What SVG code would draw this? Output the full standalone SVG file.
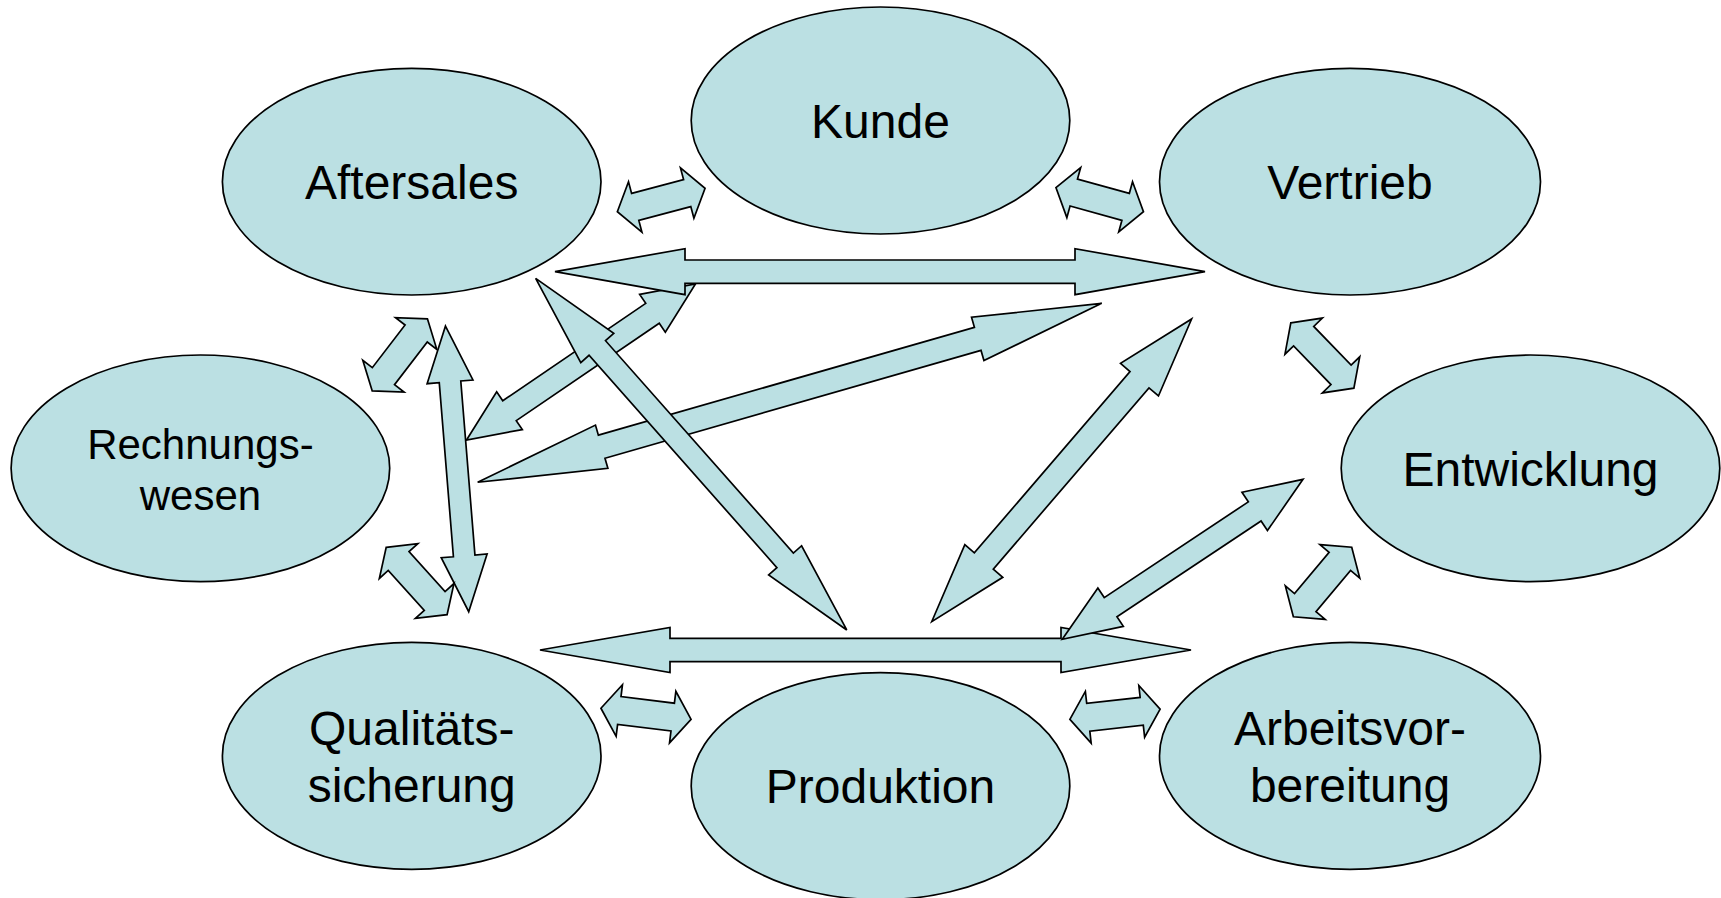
<svg xmlns="http://www.w3.org/2000/svg" xmlns:xlink="http://www.w3.org/1999/xlink" width="1721" height="898" viewBox="0 0 1721 898">
<style>
.node{fill:#BBE0E3;stroke:#000;stroke-width:1.7}
.arr{fill:#BBE0E3;stroke:#000;stroke-width:1.7;stroke-linejoin:miter}
.t{font-family:"Liberation Sans",Arial,sans-serif;font-size:48px;fill:#000;text-anchor:middle}
.ts{font-size:42px}
</style>
<defs>
<polygon id="small" points="-45.4,0 -26.9,-26 -26.9,-14 26.9,-14 26.9,-26 45.4,0 26.9,26 26.9,14 -26.9,14 -26.9,26"/>
</defs>
<rect width="1721" height="898" fill="#fff"/>
<g id="connectors">
<polygon class="arr" transform="translate(581,362) rotate(-34.26)" points="-138.5,0 -86.5,-22.8 -86.5,-12 86.5,-12 86.5,-22.8 138.5,0 86.5,22.8 86.5,12 -86.5,12 -86.5,22.8"/>
<polygon class="arr" transform="translate(789.7,392.8) rotate(-16)" points="-324.6,0 -195.6,-22.5 -195.6,-12 195.6,-12 195.6,-22.5 324.6,0 195.6,22.5 195.6,12 -195.6,12 -195.6,22.5"/>
<polygon class="arr" transform="translate(691.2,454.15) rotate(48.5)" points="-234.75,0 -141.75,-22 -141.75,-11 141.75,-11 141.75,-22 234.75,0 141.75,22 141.75,11 -141.75,11 -141.75,22"/>
<polygon class="arr" transform="translate(880,271.7)" points="-325,0 -195,-23 -195,-11.7 195,-11.7 195,-23 325,0 195,23 195,11.7 -195,11.7 -195,23"/>
<polygon class="arr" transform="translate(1061.65,470.35) rotate(-49.35)" points="-199.5,0 -119.5,-25 -119.5,-12.5 119.5,-12.5 119.5,-25 199.5,0 119.5,25 119.5,12.5 -119.5,12.5 -119.5,25"/>
<polygon class="arr" transform="translate(865.5,650)" points="-325.5,0 -195.5,-22.5 -195.5,-11.7 195.5,-11.7 195.5,-22.5 325.5,0 195.5,22.5 195.5,11.7 -195.5,11.7 -195.5,22.5"/>
<polygon class="arr" transform="translate(1182.65,559.3) rotate(-33.6)" points="-144.5,0 -86.5,-23 -86.5,-11.5 86.5,-11.5 86.5,-23 144.5,0 86.5,23 86.5,11.5 -86.5,11.5 -86.5,23"/>
<use class="arr" xlink:href="#small" href="#small" transform="translate(399.8,354.85) rotate(-52.5)"/>
<polygon class="arr" transform="translate(457.1,468.85) rotate(85.35)" points="-143.3,0 -87.3,-23 -87.3,-10.8 87.3,-10.8 87.3,-23 143.3,0 87.3,23 87.3,10.8 -87.3,10.8 -87.3,23"/>
<use class="arr" xlink:href="#small" href="#small" transform="translate(661.2,200) rotate(-14.94)"/>
<use class="arr" xlink:href="#small" href="#small" transform="translate(1099.7,199.7) rotate(15.4)"/>
<use class="arr" xlink:href="#small" href="#small" transform="translate(1322.35,355.5) rotate(46)"/>
<use class="arr" xlink:href="#small" href="#small" transform="translate(416.65,581) rotate(47.9)"/>
<use class="arr" xlink:href="#small" href="#small" transform="translate(1322.55,582) rotate(-50)"/>
<use class="arr" xlink:href="#small" href="#small" transform="translate(646,713.8) rotate(7)"/>
<use class="arr" xlink:href="#small" href="#small" transform="translate(1115,714.3) rotate(-6.4)"/>
</g>
<g id="aftersales"><ellipse class="node" cx="411.7" cy="181.7" rx="189.3" ry="113.3"/><text class="t" x="411.7" y="199.3">Aftersales</text></g>
<g id="kunde"><ellipse class="node" cx="880.5" cy="120.5" rx="189.3" ry="113.5"/><text class="t" x="880.5" y="138.3">Kunde</text></g>
<g id="vertrieb"><ellipse class="node" cx="1350" cy="181.7" rx="190.5" ry="113.3"/><text class="t" x="1350" y="199.3">Vertrieb</text></g>
<g id="rechnungswesen"><ellipse class="node" cx="200.4" cy="468.3" rx="189.3" ry="113.3"/><text class="t ts" x="200.4" y="459.3">Rechnungs-</text><text class="t ts" x="200.4" y="510">wesen</text></g>
<g id="entwicklung"><ellipse class="node" cx="1530.5" cy="468.3" rx="189.3" ry="113.3"/><text class="t" x="1530.5" y="486">Entwicklung</text></g>
<g id="qualitaetssicherung"><ellipse class="node" cx="411.7" cy="755.8" rx="189.3" ry="113.5"/><text class="t" x="411.7" y="745">Qualitäts-</text><text class="t" x="411.7" y="802.3">sicherung</text></g>
<g id="produktion"><ellipse class="node" cx="880.5" cy="786.2" rx="189.3" ry="113.5"/><text class="t" x="880.5" y="803.3">Produktion</text></g>
<g id="arbeitsvorbereitung"><ellipse class="node" cx="1350" cy="755.8" rx="190.5" ry="113.5"/><text class="t" x="1350" y="745">Arbeitsvor-</text><text class="t" x="1350" y="802.3">bereitung</text></g>
</svg>
